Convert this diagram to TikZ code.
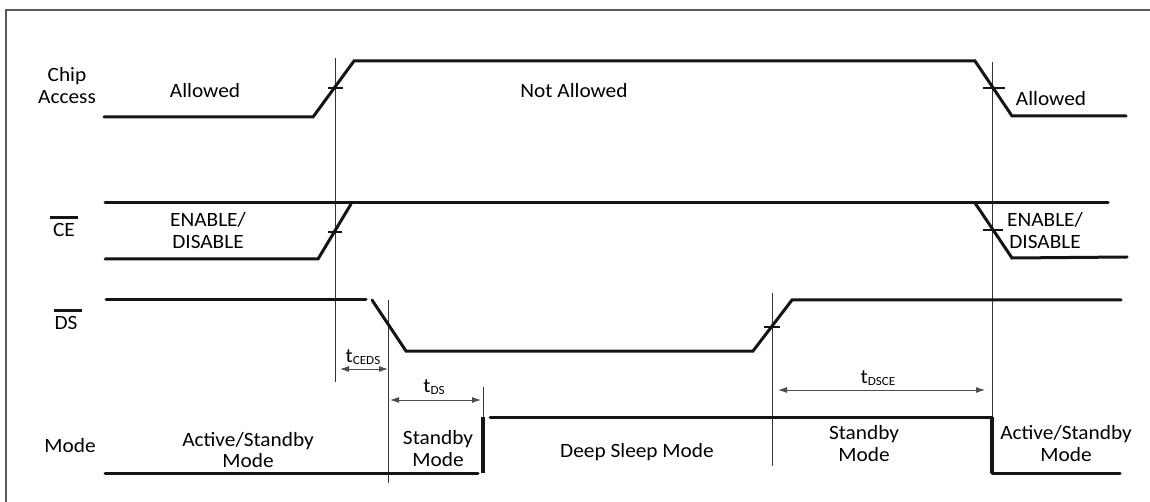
\documentclass[tikz,border=0pt]{standalone}
\usepackage{fontspec}
\setmainfont{Carlito}[FakeStretch=1.05]
\usetikzlibrary{arrows.meta}
\newcommand{\tlab}[1]{t\raisebox{-2pt}{\fontsize{12.5}{13}\selectfont #1}}
\begin{document}
\begin{tikzpicture}[x=1pt,y=-1pt,
  sig/.style={line width=3pt, line cap=round, line join=miter, black!92},
  thinln/.style={line width=0.9pt, black!80},
  tickln/.style={line width=2.6pt, black!92},
  modedrop/.style={line width=4pt, black!92},
  dimln/.style={line width=0.9pt, black!70, {Latex[length=9pt,width=6pt]}-{Latex[length=9pt,width=6pt]}},
  lbl/.style={font=\fontsize{20.3}{21.5}\selectfont, text=black, inner sep=0pt, align=center},
  sublbl/.style={font=\fontsize{20.3}{21.5}\selectfont, text=black, inner sep=0pt, anchor=base},
]
\useasboundingbox (0,0) rectangle (1150,502);
\fill[white] (0,0) rectangle (1150,502);
% frame
\draw[black!65, line width=1.5pt] (6,502) -- (6,10) -- (1150,10);

% vertical reference lines
\draw[thinln] (335,58) -- (335,382);
\draw[thinln] (388,300) -- (388,483);
\draw[thinln] (483,387) -- (483,473);
\draw[thinln] (772,293) -- (772,466);
\draw[thinln] (992,62) -- (992,473);

% Chip access
\draw[sig] (104,117) -- (313,117) -- (354,61) -- (975,61) -- (1012,116) -- (1126,116);
\draw[tickln] (328,88) -- (343,88);
\draw[tickln] (983,88) -- (1005,88);

% CE
\draw[sig] (105,203) -- (1108,203);
\draw[sig] (105,259) -- (318,259) -- (351,204);
\draw[sig] (975,203) -- (1012,258) -- (1127,257);
\draw[tickln] (328,232) -- (342,232);
\draw[tickln] (983,230) -- (1003,230);
\draw[line width=3pt, black!92] (50,218) -- (78,218);

% DS
\draw[sig] (106,300) -- (366,300);
\draw[sig] (372,300) -- (406,351) -- (753,351) -- (792,300) -- (1121,300);
\draw[tickln] (764,327) -- (780,327);
\draw[line width=3pt, black!92] (54,311) -- (82,311);

% Mode
\draw[sig] (105,473) -- (478,473);
\draw[modedrop] (483,417) -- (483,473);
\draw[sig] (490,417) -- (992,417);
\draw[modedrop] (992,417) -- (992,473);
\draw[sig] (992,473) -- (1120,473);

% dimension arrows
\draw[dimln] (340,369) -- (388,369);
\draw[dimln] (390,400) -- (481,400);
\draw[dimln] (778,390) -- (985,390);

% labels
\node[lbl] (chip) at (67,85.5) {Chip\\Access};
\node[sublbl] (allowL) at (205,98) {Allowed};
\node[sublbl] (notallow) at (574,98) {Not Allowed};
\node[sublbl] (allowR) at (1051,106) {Allowed};
\node[sublbl] (ce) at (64,237) {CE};
\node[lbl] (enL) at (208,230.5) {ENABLE/\\DISABLE};
\node[lbl] (enR) at (1045,230.5) {ENABLE/\\DISABLE};
\node[sublbl] (ds) at (66,330) {DS};
\node[sublbl] (mode) at (70,452) {Mode};
\node[lbl] (asL) at (248,450) {Active/Standby\\Mode};
\node[lbl] (sbL) at (438,448.5) {Standby\\Mode};
\node[sublbl] (dsm) at (637,457) {Deep Sleep Mode};
\node[lbl] (sbR) at (864,443.5) {Standby\\Mode};
\node[lbl] (asR) at (1066,443.5) {Active/Standby\\Mode};
\node[sublbl] (tceds) at (363,362) {\tlab{CEDS}};
\node[sublbl] (tds) at (434,392) {\tlab{DS}};
\node[sublbl] (tdsce) at (878,383) {\tlab{DSCE}};
\end{tikzpicture}
\end{document}
